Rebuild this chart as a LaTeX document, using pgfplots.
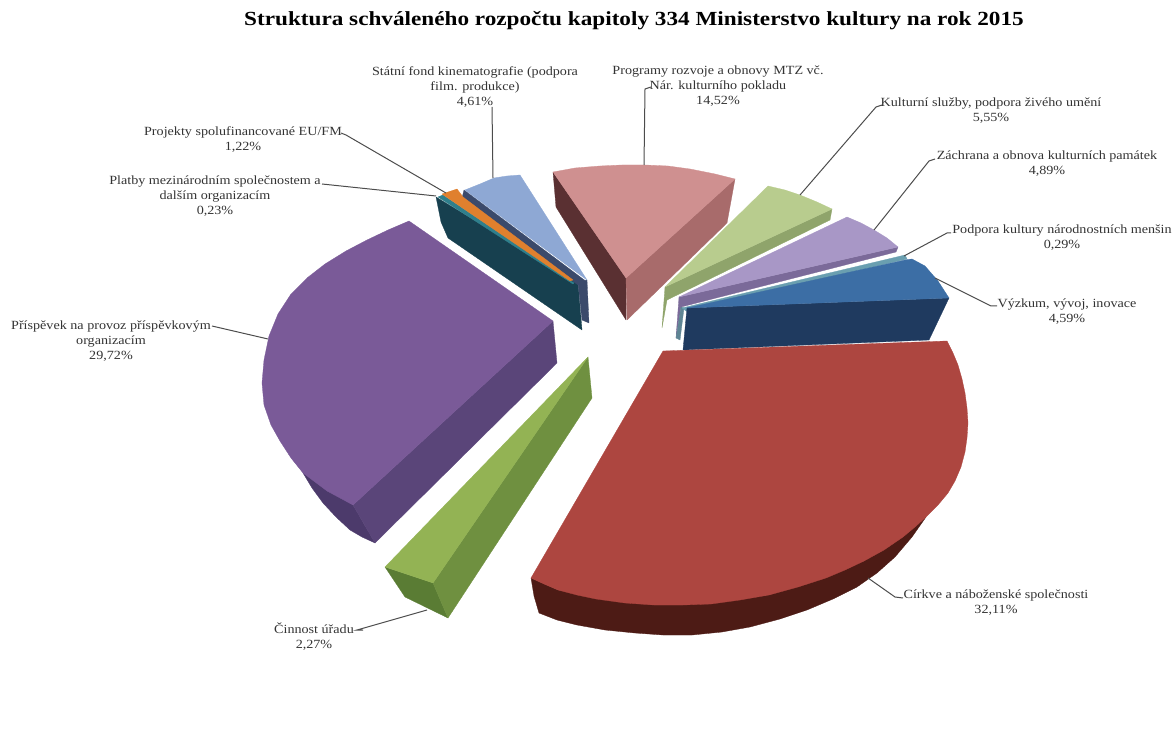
\documentclass[border=0pt]{standalone}
\usepackage{fontspec}
\setmainfont{Liberation Serif}
\usepackage{pgfplots}
\pgfplotsset{compat=1.18}
\definecolor{purpdark}{HTML}{4C3A6B}
\definecolor{purpside}{HTML}{5A4579}
\definecolor{purptop}{HTML}{7A5A98}
\definecolor{grnout}{HTML}{5A7C34}
\definecolor{grnside}{HTML}{6F9040}
\definecolor{grntop}{HTML}{93B354}
\definecolor{tealside}{HTML}{17404F}
\definecolor{teallt}{HTML}{2F7F8C}
\definecolor{bluedk}{HTML}{3B4A6B}
\definecolor{orange}{HTML}{E0802E}
\definecolor{bluelt}{HTML}{8EA8D4}
\definecolor{pinkleft}{HTML}{5A3032}
\definecolor{pinkright}{HTML}{A86B6B}
\definecolor{pinktop}{HTML}{CF9090}
\definecolor{lgrnside}{HTML}{8FA46B}
\definecolor{lgrntop}{HTML}{B8CC8E}
\definecolor{lilside}{HTML}{7B6A99}
\definecolor{liltop}{HTML}{A897C6}
\definecolor{tealthinside}{HTML}{5F8594}
\definecolor{tealthin}{HTML}{6A9FB0}
\definecolor{blueside}{HTML}{1F3A5F}
\definecolor{bluetop}{HTML}{3C6EA5}
\definecolor{reddark}{HTML}{4D1B15}
\definecolor{redtop}{HTML}{AD4640}
\newcommand{\face}[2]{\addplot[fill=#1,draw=#1,line width=0.3pt,line join=round] coordinates {#2} -- cycle;}
\newcommand{\leader}[1]{\addplot[draw=black!70,line width=1pt] coordinates {#1};}
\tikzset{lbl/.style={font=\fontsize{12.5}{15}\selectfont,text=black!80,align=center,inner sep=0pt,anchor=north,xscale=1.13}}
\begin{document}
\begin{tikzpicture}[x=1pt,y=1pt]
\useasboundingbox (0,0) rectangle (1173,735);
\begin{axis}[
    at={(0,0)},anchor=south west,
    scale only axis,width=1173pt,height=735pt,
    xmin=0,xmax=1173,ymin=0,ymax=735,
    y dir=reverse,
    hide axis,clip=false,
]
% purple, 29.72
\face{purpdark}{(353,505)(375,543)(362,537)(350,530)(336,517)(323,503)(312,488)(303,473)}
\face{purpside}{(553,321)(557,363)(375,543)(353,505)}
\face{purptop}{(409,221)(553,321)(353,505)(340,498)(327,491)(315,482)(303,473)(291,458)(280,441)(271,425)(264,405)(262,383)(264,360)(269,336)(278,314)(291,294)(307,278)(325,264)(346,251)(367,240)(388,230)}
% green, 2.27
\face{grnout}{(385,567)(405,597)(448,618)(433,583)}
\face{grnside}{(588,357)(592,398)(448,618)(433,583)}
\face{grntop}{(588,357)(385,567)(433,583)}
% teal 0.23, orange 1.22, light blue 4.61
\face{tealside}{(436,197)(441,222)(448,238)(582,330)(578,283)}
\face{bluedk}{(578,283)(582,320)(589,323)(587,280)}
\face{bluedk}{(464,190)(587,282)(578,285)(462,198)}
\face{teallt}{(438,197)(443,195)(574,283)(573,284)}
\face{orange}{(442,194)(457,189)(463,197)(573,280)(570,281)}
\face{bluelt}{(465,190)(480,184)(494,178)(507,176)(520,175)(587,280)}
% pink 14.52
\face{pinkleft}{(553,172)(556,207)(626,320)(626,278)}
\face{pinkright}{(735,179)(727,223)(627,320)(626,278)}
\face{pinktop}{(553,172)(575,168)(600,166)(622,165)(645,165)(668,166)(690,169)(715,174)(735,179)(626,278)}
% light green 5.55
\face{lgrnside}{(832,209)(830,220)(667,300)(662,328)(665,287)}
\face{lgrntop}{(768,186)(785,190)(800,195)(817,202)(832,209)(665,287)}
% lilac 4.89
\face{lilside}{(898,247)(896,252)(681,307)(676,338)(679,297)}
\face{liltop}{(847,217)(861,223)(874,230)(887,238)(898,247)(679,297)}
% thin teal 0.29
\face{tealthinside}{(684,308)(680,340)(676,338)(681,307)}
\face{tealthin}{(905,255)(907,259)(686,311)(682,308)}
% blue 4.59
\face{blueside}{(949,298)(929,340)(683,350)(687,308)}
\face{bluetop}{(905,260)(912,259)(925,266)(938,281)(949,298)(687,308)}
% red 32.11
\face{reddark}{(531,578)(534,596)(539,613)(557,620)(577,625)(605,630)(635,633)(663,635)(692,635)(722,632)(750,627)(780,619)(807,610)(833,599)(857,587)(877,573)(895,557)(912,537)(926,517)(864,561)(769,595)(654,605)(558,590)}
\face{redtop}{(663,351)(947,341)(953,353)(958,365)(962,379)(965,393)(967,408)(968,423)(967,438)(965,452)(961,467)(955,481)(948,493)(938,505)(926,517)(915,527)(903,537)(884,550)(864,561)(845,570)(826,578)(798,587)(769,595)(740,600)(711,604)(683,605)(654,605)(625,603)(596,599)(577,595)(558,590)(544,584)(531,578)}
% leaders
\leader{(341,133)(346,135)(446,193)}
\leader{(322,184)(436,196)}
\leader{(492,107)(493,178)}
\leader{(212,326)(268,339)}
\leader{(651,87)(645,89)(644,165)}
\leader{(882,105)(876,107)(800,195)}
\leader{(935,159)(929,161)(874,230)}
\leader{(951,233)(947,233)(904,256)}
\leader{(997,306)(991,306)(935,278)}
\leader{(903,598)(895,597)(868,578)}
\leader{(363,630)(357,630)(427,610)}
% title and labels
\node[font=\fontsize{20}{23}\selectfont\bfseries,inner sep=0pt,xscale=1.16] at (axis cs:634,21) {Struktura schváleného rozpočtu kapitoly 334 Ministerstvo kultury na rok 2015};
\node[lbl] at (axis cs:475,67) {Státní fond kinematografie (podpora\\film. produkce)\\4,61\%};
\node[lbl] at (axis cs:243,127) {Projekty spolufinancované EU/FM\\1,22\%};
\node[lbl] at (axis cs:215,176) {Platby mezinárodním společnostem a\\dalším organizacím\\0,23\%};
\node[lbl] at (axis cs:111,321) {Příspěvek na provoz příspěvkovým\\organizacím\\29,72\%};
\node[lbl] at (axis cs:718,66) {Programy rozvoje a obnovy MTZ vč.\\Nár. kulturního pokladu\\14,52\%};
\node[lbl] at (axis cs:991,98) {Kulturní služby, podpora živého umění\\5,55\%};
\node[lbl] at (axis cs:1047,151) {Záchrana a obnova kulturních památek\\4,89\%};
\node[lbl] at (axis cs:1062,225) {Podpora kultury národnostních menšin\\0,29\%};
\node[lbl] at (axis cs:1067,299) {Výzkum, vývoj, inovace\\4,59\%};
\node[lbl] at (axis cs:996,590) {Církve a náboženské společnosti\\32,11\%};
\node[lbl] at (axis cs:314,623) {Činnost úřadu\\2,27\%};
\end{axis}
\end{tikzpicture}
\end{document}
